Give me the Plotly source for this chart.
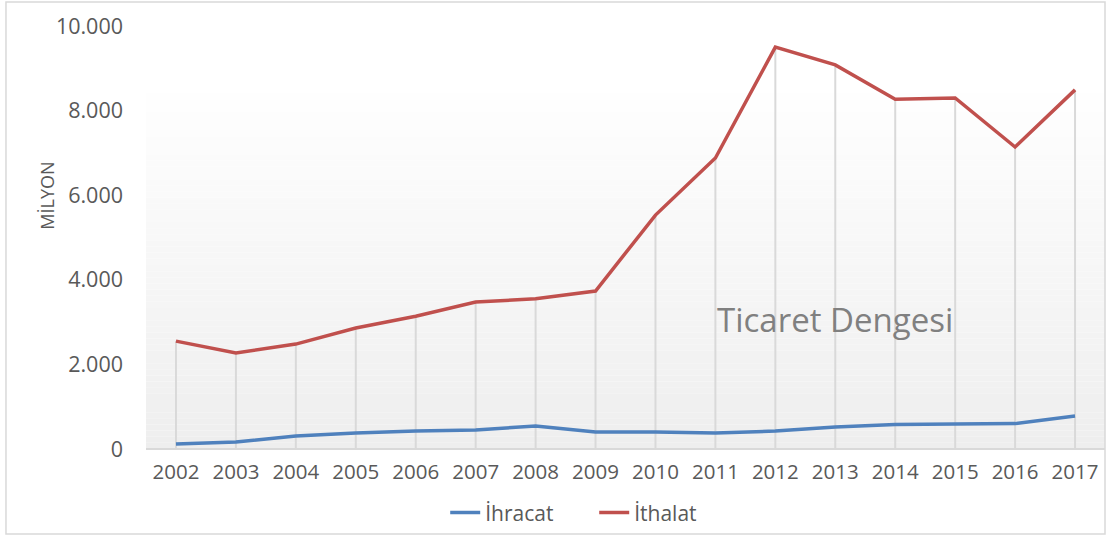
import plotly.graph_objects as go

years = list(range(2002, 2018))
ihracat = [120, 165, 310, 380, 425, 450, 545, 400, 400, 380, 425, 520, 580, 580, 600, 780]
ithalat = [2550, 2270, 2480, 2860, 3140, 3475, 3550, 3735, 5530, 6880, 9500, 9080, 8270, 8300, 7140, 8490]
y_ticks = [0, 2000, 4000, 6000, 8000, 10000]

FONT = "Open Sans"
TXT = "#595959"

fig = go.Figure()

# drop lines from İthalat line to axis
dx, dy = [], []
for x, v in zip(years, ithalat):
    dx += [x, x, None]
    dy += [0, v, None]
fig.add_trace(go.Scatter(x=dx, y=dy, mode="lines", line=dict(color="#d9d9d9", width=2),
                         showlegend=False, hoverinfo="skip"))

fig.add_trace(go.Scatter(x=years, y=ihracat, mode="lines", name="İhracat",
                         line=dict(color="#4F81BD", width=3.5)))
fig.add_trace(go.Scatter(x=years, y=ithalat, mode="lines", name="İthalat",
                         line=dict(color="#C0504D", width=3.5)))

# gradient background of plot area
shapes = []
n = 60
top = 0.87
for i in range(n):
    y0 = top * i / n
    y1 = top * (i + 1) / n
    t = 1 - (i + 0.5) / n
    c = int(round(255 - (255 - 238) * t))
    shapes.append(dict(type="rect", xref="x domain", yref="y domain", x0=0, x1=1, y0=y0, y1=y1,
                       fillcolor=f"rgb({c},{c},{c})", line=dict(width=0), layer="below"))
# outer border
shapes.append(dict(type="rect", xref="paper", yref="paper", x0=-0.146, x1=1.0, y0=-0.201, y1=1.057,
                   line=dict(color="#d9d9d9", width=1.5), fillcolor="rgba(0,0,0,0)", layer="below"))

fig.update_layout(
    width=1107, height=536,
    margin=dict(l=146, r=2, t=26, b=87, autoexpand=False),
    paper_bgcolor="white", plot_bgcolor="white",
    separators=",.",
    font=dict(family=FONT, color=TXT),
    shapes=shapes,
    showlegend=True,
    legend=dict(orientation="h", x=0.312, xanchor="left", y=-0.151, yanchor="middle",
                entrywidth=104, entrywidthmode="pixels",
                font=dict(size=21, color=TXT, family=FONT), bgcolor="rgba(0,0,0,0)"),
    annotations=[
        dict(text="Ticaret Dengesi", x=2013.0, y=3050, xref="x", yref="y",
             showarrow=False, font=dict(size=33, color="#808080", family=FONT)),
        dict(text="MİLYON", x=-0.1032, y=0.599, xref="paper", yref="paper", textangle=-90,
             showarrow=False, xanchor="center", yanchor="middle",
             font=dict(size=18, color=TXT, family=FONT)),
    ],
)
fig.update_xaxes(range=[2001.5, 2017.5], tickmode="array", tickvals=years,
                 ticktext=[str(y) for y in years], showgrid=False, zeroline=False,
                 showline=False, ticks="", tickfont=dict(size=20.5, color=TXT), ticklabelstandoff=8,
                 automargin=False)
fig.update_yaxes(range=[0, 10000], tickvals=y_ticks, tickformat=",d", showgrid=False,
                 zeroline=True, zerolinecolor="#d9d9d9", zerolinewidth=1.5,
                 ticks="", tickfont=dict(size=21.5, color=TXT), ticklabelstandoff=22,
                 automargin=False)

fig.write_html("out.html", config={"displayModeBar": False},
               post_script="document.body.style.margin='0';document.body.style.overflow='hidden';")
